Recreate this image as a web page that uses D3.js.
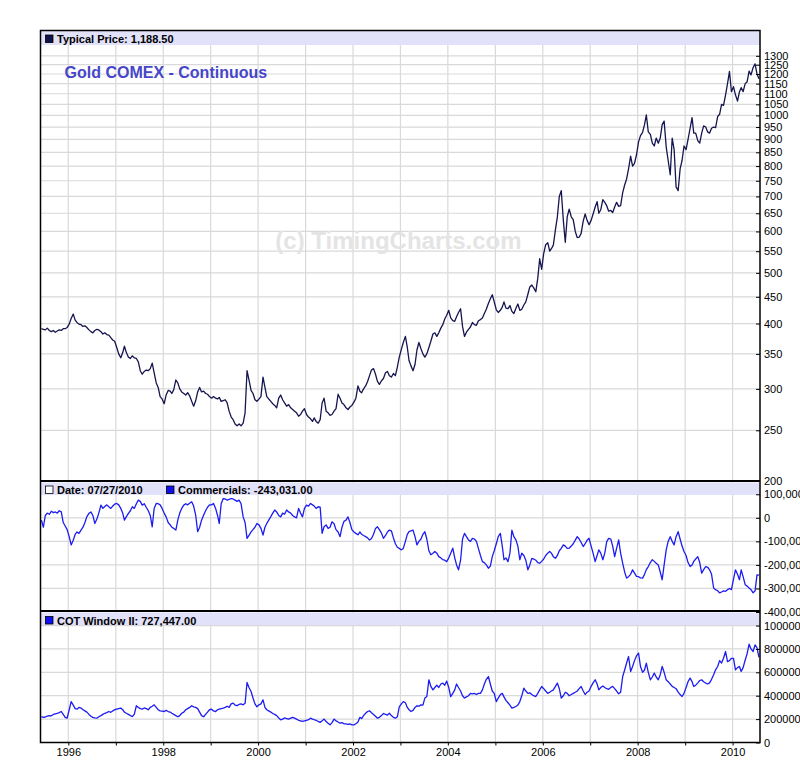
<!DOCTYPE html>
<html><head><meta charset="utf-8">
<script src="https://cdn.jsdelivr.net/npm/d3@7"></script>
<style>body{margin:0;background:#fff}svg{display:block}</style>
</head><body>
<svg id="chart" width="800" height="778"></svg>
<script>
// Semimonthly readings, Jun 1995 .. Jul 2010 (two values per month)
const goldPrice = [
 391,390,389,392,388,386,388,385,387,389,388,391,391,393,
 399,409,417,406,402,399,398,395,396,393,389,386,384,388,390,389,386,382,384,381,380,376,372,370,
 360,350,344,352,362,352,345,343,347,344,343,338,325,320,324,326,325,328,336,322,308,302,290,287,
 281,292,298,297,294,299,312,308,300,296,294,292,295,291,284,278,285,296,302,296,297,294,293,290,
 288,290,288,287,289,284,285,286,282,272,265,262,257,255,257,255,258,270,325,312,298,294,286,284,
 287,290,316,302,290,287,284,281,279,276,288,292,286,282,278,280,276,274,272,270,266,268,272,275,
 268,265,263,260,264,260,258,262,282,288,272,270,267,268,272,275,293,288,282,280,276,274,277,279,
 283,288,304,297,295,300,304,310,318,326,328,320,310,306,311,314,322,324,318,316,321,318,330,345,
 357,368,378,360,340,332,325,334,356,368,358,350,345,350,360,370,382,384,378,384,392,398,408,415,
 424,410,405,404,412,420,427,395,378,385,390,394,402,398,397,405,407,410,418,426,437,446,454,440,
 425,420,424,430,440,428,427,433,422,418,428,436,424,426,434,440,455,470,474,468,460,488,532,508,
 545,566,571,550,556,565,604,640,700,718,630,572,640,662,640,632,600,584,585,595,628,648,630,618,
 630,648,668,684,650,660,690,682,672,656,658,652,668,682,670,672,712,736,756,790,836,800,810,840,
 890,915,928,960,1002,930,920,885,874,905,885,905,960,975,870,820,770,905,860,730,718,790,820,874,
 860,900,945,990,925,925,895,885,925,955,950,930,925,945,950,948,995,1005,1050,1045,1095,1150,1214,1110,
 1135,1095,1065,1110,1130,1110,1150,1160,1215,1195,1235,1255,1200,1175
];
// Commercials net position, thousands of contracts
const commercialsK = [
 -10,-40,10,20,15,28,22,25,20,30,25,-20,-35,-50,
 -80,-115,-95,-70,-60,-66,-52,-40,-20,5,19,25,10,-24,-5,20,54,40,48,55,47,40,50,58,
 61,55,40,20,-10,5,19,30,47,40,60,75,70,54,60,45,30,10,-38,40,61,60,55,40,
 20,4,-20,-30,-40,-45,-52,-10,20,40,54,60,55,62,68,50,10,-59,-40,-10,12,30,45,55,
 55,61,40,10,-24,60,82,80,75,78,82,80,75,70,75,60,4,-20,-87,-75,-60,-50,-40,-24,
 -30,-45,-73,-40,-24,-10,5,20,33,25,10,4,20,15,33,25,20,10,4,0,40,20,4,40,
 54,50,61,55,50,40,47,45,-66,-38,-30,-45,-40,-17,-25,-50,-60,-80,-40,-15,-10,4,-20,-50,
 -60,-66,-72,-60,-70,-75,-80,-85,-94,-88,-70,-45,-38,-50,-65,-87,-75,-60,-52,-55,-85,-110,-125,-130,
 -136,-130,-100,-70,-59,-55,-52,-80,-115,-100,-90,-70,-59,-90,-140,-157,-150,-143,-150,-165,-170,-178,-180,-186,
 -170,-150,-129,-170,-200,-221,-180,-90,-66,-80,-94,-100,-87,-90,-100,-130,-160,-186,-190,-200,-214,-205,-165,-140,
 -110,-80,-66,-120,-178,-170,-186,-150,-52,-80,-94,-120,-178,-150,-160,-180,-221,-200,-172,-175,-180,-190,-193,-185,
 -175,-160,-150,-143,-150,-165,-172,-160,-140,-130,-115,-120,-130,-129,-120,-110,-95,-80,-90,-105,-122,-110,-95,-87,
 -120,-150,-186,-160,-136,-150,-178,-150,-101,-87,-90,-120,-165,-130,-94,-150,-193,-230,-256,-250,-240,-221,-235,-249,
 -250,-255,-256,-240,-220,-207,-190,-178,-185,-193,-200,-230,-263,-200,-136,-100,-80,-100,-115,-80,-59,-90,-120,-143,
 -160,-190,-207,-200,-185,-175,-165,-190,-235,-220,-207,-210,-221,-240,-298,-305,-310,-319,-315,-310,-312,-305,-300,-305,
 -260,-221,-240,-263,-221,-250,-284,-290,-298,-305,-319,-310,-242,-243
];
// COT Window II, thousands
const cotWindowK = [
 222,215,218,225,230,228,240,245,250,255,265,240,215,208,
 280,350,320,290,285,300,294,280,270,260,240,225,215,210,208,220,230,240,250,255,265,258,270,280,
 285,290,294,280,260,250,240,230,222,240,314,300,290,285,295,290,280,300,310,322,300,280,270,268,
 265,275,265,260,250,240,230,220,230,250,260,280,290,300,314,305,300,290,260,230,220,240,260,280,
 285,270,265,280,285,290,294,300,310,300,330,337,320,315,325,330,322,335,513,470,436,380,330,305,
 322,330,365,300,280,270,260,248,240,230,210,194,200,210,205,200,208,215,208,200,190,185,180,185,
 190,195,208,200,195,190,180,172,185,200,180,165,151,170,200,185,175,165,170,160,160,155,160,151,
 151,160,175,215,205,230,250,265,271,255,240,225,208,215,230,248,240,235,250,230,215,208,220,305,
 330,350,340,300,280,265,275,300,314,310,322,320,380,393,536,480,450,470,490,470,500,508,490,525,
 470,393,420,450,500,470,440,400,380,390,400,420,415,420,410,420,420,450,500,540,564,500,440,420,
 350,380,410,420,390,360,340,320,294,300,308,320,350,400,465,440,420,425,410,400,393,420,450,479,
 460,440,420,430,440,450,480,508,460,380,400,430,420,400,410,420,430,440,460,479,440,410,430,440,
 480,510,536,500,450,470,483,470,460,455,470,480,460,440,416,430,564,620,680,735,607,650,700,740,
 764,650,600,620,679,600,536,560,593,560,536,580,650,600,536,520,500,480,470,460,430,410,393,420,
 470,520,550,520,479,490,510,530,536,520,508,500,510,540,580,621,650,700,680,720,778,692,700,720,
 720,621,640,650,607,640,705,760,841,800,778,835,810,727
];
const priceTicks = [200,250,300,350,400,450,500,550,600,650,700,750,800,850,900,950,1000,1050,1100,1150,1200,1250,1300];
const commTicks = [-400000,-300000,-200000,-100000,0,100000];
const cotTicks = [0,200000,400000,600000,800000,1000000];
const yearLabels = [1996,1998,2000,2002,2004,2006,2008,2010];

const svg = d3.select('#chart');
svg.append('rect').attr('width',800).attr('height',778).attr('fill','#fff');

const L = 40.5, R = 760;
const P = {top:[31,481], mid:[481,611], bot:[611,742.5]};
const dateOf = i => new Date(1995, 5 + Math.floor(i/2), i % 2 ? 23 : 8);

const x = d3.scaleTime().domain([new Date(1995,5,1), new Date(2010,6,31)]).range([L,R]);
const yP = d3.scaleLog().domain([200,1450]).range([481,31]);
const yC = d3.scaleLinear().domain([-400000,150000]).range([612,482.5]);
const yW = d3.scaleLinear().domain([0,1120000]).range([742.5,611.5]);

const gridC = '#d9d9d9';
const g = svg.append('g');

// vertical year grid
const years = d3.timeYear.range(new Date(1996,0,1), new Date(2011,0,1));
g.selectAll('line.vg').data(years).join('line')
  .attr('x1',d=>x(d)).attr('x2',d=>x(d)).attr('y1',31).attr('y2',742.5)
  .attr('stroke',gridC).attr('stroke-width',1.2);

function hgrid(scale, ticks, y0, y1){
  g.selectAll(null).data(ticks.filter(t=>scale(t)>y0+1 && scale(t)<y1-1)).join('line')
   .attr('x1',L).attr('x2',R).attr('y1',d=>scale(d)).attr('y2',d=>scale(d))
   .attr('stroke',gridC).attr('stroke-width',1.2);
}
hgrid(yP, priceTicks, P.top[0], P.top[1]);
hgrid(yC, commTicks, P.mid[0], P.mid[1]);
hgrid(yW, cotTicks, P.bot[0], P.bot[1]);

// header bands
const band = '#e1e1fa';
g.append('rect').attr('x',L+0.5).attr('y',31).attr('width',R-L-1).attr('height',14).attr('fill',band);
g.append('rect').attr('x',L+0.5).attr('y',482.5).attr('width',R-L-1).attr('height',12.5).attr('fill',band);
g.append('rect').attr('x',L+0.5).attr('y',612.5).attr('width',R-L-1).attr('height',12.5).attr('fill',band);

// watermark + title
svg.append('text').attr('x',398.5).attr('y',249).attr('text-anchor','middle')
  .attr('font-family','Arial, "Liberation Sans", sans-serif').attr('font-weight','bold').attr('font-size',24)
  .attr('fill','#e4e4e4').text('(c) TimingCharts.com');
svg.append('text').attr('x',64.5).attr('y',77.5)
  .attr('font-family','Arial, "Liberation Sans", sans-serif').attr('font-weight','bold').attr('font-size',16)
  .attr('fill','#4646c8').text('Gold COMEX - Continuous');

// clip paths
const defs = svg.append('defs');
Object.entries(P).forEach(([k,[a,b]])=>{
  defs.append('clipPath').attr('id','clip-'+k).append('rect')
    .attr('x',L).attr('y',a).attr('width',R-L).attr('height',b-a);
});

const lineP = d3.line().x((d,i)=>x(dateOf(i))).y(d=>yP(d));
const lineC = d3.line().x((d,i)=>x(dateOf(i))).y(d=>yC(d*1000));
const lineW = d3.line().x((d,i)=>x(dateOf(i))).y(d=>yW(d*1000));

svg.append('path').datum(goldPrice).attr('d',lineP).attr('clip-path','url(#clip-top)')
  .attr('fill','none').attr('stroke','#15154f').attr('stroke-width',1.3).attr('stroke-linejoin','round');
svg.append('path').datum(commercialsK).attr('d',lineC).attr('clip-path','url(#clip-mid)')
  .attr('fill','none').attr('stroke','#1c1cf2').attr('stroke-width',1.3).attr('stroke-linejoin','round');
svg.append('path').datum(cotWindowK).attr('d',lineW).attr('clip-path','url(#clip-bot)')
  .attr('fill','none').attr('stroke','#1c1cf2').attr('stroke-width',1.3).attr('stroke-linejoin','round');

// legends
const font = 'Arial, "Liberation Sans", sans-serif';
function label(xx, yy, txt){
  svg.append('text').attr('x',xx).attr('y',yy).attr('font-family',font).attr('font-weight','bold')
    .attr('font-size',11).attr('fill','#000').text(txt);
}
function swatch(xx, yy, fill){
  svg.append('rect').attr('x',xx).attr('y',yy).attr('width',7.5).attr('height',7.5)
    .attr('fill',fill).attr('stroke','#000').attr('stroke-width',0.8);
}
swatch(45.5,35,'#10104a'); label(57,43,'Typical Price: 1,188.50');
swatch(45.5,486,'#fff'); label(57,494,'Date: 07/27/2010');
swatch(166.5,486,'#1010ee'); label(178,494,'Commercials: -243,031.00');
swatch(45.5,616.5,'#1010ee'); label(57,624.5,'COT Window II: 727,447.00');

// right axes
function rightAxis(scale, ticks, fmt){
  const a = svg.append('g').attr('transform',`translate(${R},0)`)
    .call(d3.axisRight(scale).tickValues(ticks).tickSize(-4).tickPadding(4).tickFormat(fmt));
  a.select('.domain').remove();
  a.selectAll('text').attr('font-family',font).attr('font-size',11).attr('fill','#000');
  a.selectAll('line').attr('stroke','#000');
}
rightAxis(yP, priceTicks, d3.format('d'));
rightAxis(yC, commTicks, d=>d3.format(',')(d).replace('\u2212','-'));
rightAxis(yW, cotTicks, d3.format('d'));

// bottom axis
const xa = svg.append('g').attr('transform','translate(0,742.5)')
  .call(d3.axisBottom(x).tickValues(years).tickSize(3).tickPadding(3)
    .tickFormat(d=>yearLabels.includes(d.getFullYear()) ? d.getFullYear() : ''));
xa.select('.domain').remove();
xa.selectAll('text').attr('font-family',font).attr('font-size',11).attr('fill','#000');
xa.selectAll('line').attr('stroke','#000');

// frame and separators
svg.append('rect').attr('x',L).attr('y',30.5).attr('width',R-L).attr('height',742.5-30.5)
  .attr('fill','none').attr('stroke','#000').attr('stroke-width',1.5);
[481,611].forEach(yy=>svg.append('line').attr('x1',L).attr('x2',R).attr('y1',yy).attr('y2',yy)
  .attr('stroke','#000').attr('stroke-width',2.2));
</script>
</body></html>
